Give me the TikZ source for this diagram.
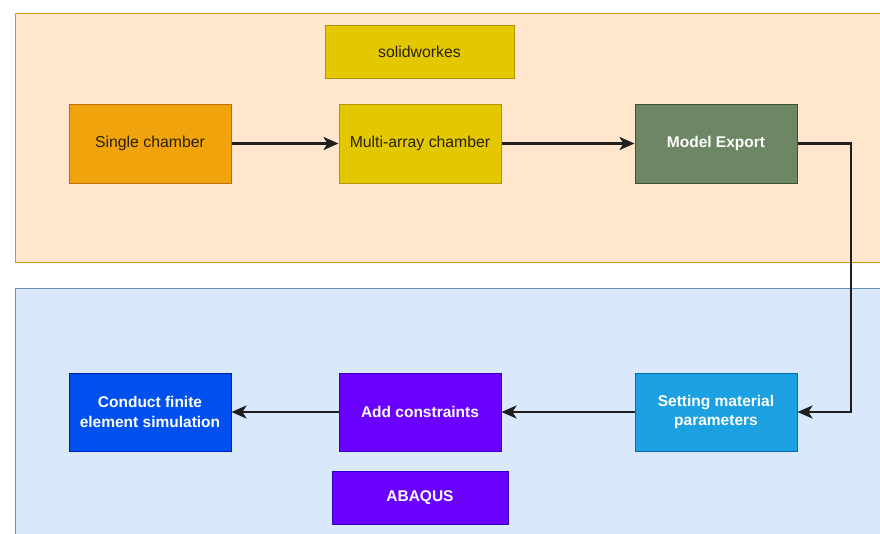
\documentclass[tikz,border=0pt]{standalone}
\usepackage{fontspec}
\setmainfont{Liberation Sans}
\usetikzlibrary{arrows.meta}
\definecolor{toppanel}{HTML}{FFE6CC}
\definecolor{toppanelb}{HTML}{D79B00}
\definecolor{botpanel}{HTML}{DAE8FC}
\definecolor{botpanelb}{HTML}{6C8EBF}
\definecolor{orangef}{HTML}{F0A30A}
\definecolor{orangeb}{HTML}{BD7000}
\definecolor{yellowf}{HTML}{E3C800}
\definecolor{yellowb}{HTML}{B09500}
\definecolor{greenf}{HTML}{6D8764}
\definecolor{greenb}{HTML}{3A5431}
\definecolor{cyanf}{HTML}{1BA1E2}
\definecolor{cyanb}{HTML}{006EAF}
\definecolor{violetf}{HTML}{6A00FF}
\definecolor{violetb}{HTML}{3700CC}
\definecolor{bluef}{HTML}{0050EF}
\definecolor{blueb}{HTML}{001DBC}
\definecolor{darktext}{HTML}{2A2200}
\tikzset{
  panel/.style={line width=1pt},
  box/.style={draw, line width=1pt, minimum width=162pt, minimum height=79pt,
    inner sep=2pt, align=center, font=\fontsize{15.8}{19.5}\selectfont},
  darkbox/.style={box, text=darktext},
  lightbox/.style={box, text=white, font=\fontsize{15.5}{19.5}\selectfont\bfseries},
  conn/.style={line width=2.5pt, draw=black!88, -{Stealth[length=15pt,width=13pt,inset=4pt]}}
}
\begin{document}
\begin{tikzpicture}[x=1pt,y=-1pt]
\useasboundingbox (0,0) rectangle (880,533);
\clip (0,0) rectangle (880,533);
\fill[white] (0,0) rectangle (880,533);
\draw[panel, fill=toppanel, draw=toppanelb] (15,13) rectangle (895,262);
\draw[panel, fill=botpanel, draw=botpanelb] (15,288) rectangle (895,545);

\node[darkbox, fill=orangef, draw=orangeb] (single) at (150,143.5) {Single chamber};
\node[darkbox, fill=yellowf, draw=yellowb, minimum width=189pt, minimum height=53pt] (solid) at (419.5,51.5) {solidworkes};
\node[darkbox, fill=yellowf, draw=yellowb] (multi) at (420,143.5) {Multi-array chamber};
\node[lightbox, fill=greenf, draw=greenb] (export) at (716,143.5) {Model Export};
\node[lightbox, fill=cyanf, draw=cyanb, minimum height=78pt] (setting) at (716,412) {Setting material\\parameters};
\node[lightbox, fill=violetf, draw=violetb, minimum height=78pt] (add) at (420,412) {Add constraints};
\node[lightbox, fill=bluef, draw=blueb, minimum height=78pt] (conduct) at (150,412) {Conduct finite\\element simulation};
\node[lightbox, fill=violetf, draw=violetb, minimum width=176pt, minimum height=53pt] (abaqus) at (420,497.5) {ABAQUS};

\coordinate (turn) at (851,143.5);
\draw[conn] (single.east) -- (multi.west);
\draw[conn] (multi.east) -- (export.west);
\draw[conn] (export.east) -- (turn) |- (setting.east);
\draw[conn] (setting.west) -- (add.east);
\draw[conn] (add.west) -- (conduct.east);
\end{tikzpicture}
\end{document}
